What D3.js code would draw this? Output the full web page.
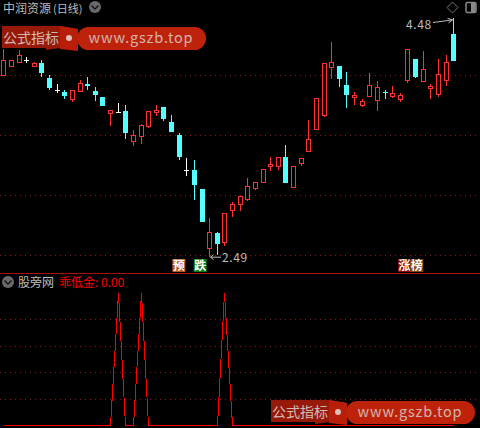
<!DOCTYPE html>
<html><head><meta charset="utf-8">
<script src="https://cdn.jsdelivr.net/npm/d3@7"></script>
<style>html,body{margin:0;padding:0;background:#000;overflow:hidden}svg{display:block}text{font-family:"Noto Sans CJK SC","Noto Sans",sans-serif}</style>
</head><body><div id="c"></div>
<script>
const opens=[4.005,4.076,4.114,4.130,4.076,4.101,3.980,3.876,3.864,3.801,3.868,3.931,3.872,3.822,3.685,3.697,3.706,3.458,3.500,3.581,3.697,3.736,3.614,3.506,3.214,3.214,3.056,2.559,2.690,2.609,2.876,2.931,2.971,3.059,3.109,3.245,3.250,3.320,3.070,3.275,3.367,3.558,3.667,4.074,4.080,3.922,3.820,3.758,3.833,3.800,3.865,3.833,3.806,3.966,4.139,3.950,3.897,3.850,3.966,4.347];
const highs=[4.222,4.126,4.214,4.158,4.114,4.130,4.005,3.931,3.881,3.876,3.964,3.989,3.906,3.822,3.710,3.772,3.756,3.548,3.597,3.703,3.756,3.736,3.672,3.520,3.314,3.298,3.056,2.815,2.698,2.854,2.948,2.998,3.148,3.112,3.220,3.320,3.320,3.423,3.245,3.312,3.631,3.811,4.103,4.278,4.080,4.030,3.861,3.803,4.020,3.955,3.881,3.911,3.856,4.219,4.139,4.205,3.931,4.136,4.172,4.480];
const lows=[4.005,4.068,4.114,4.105,4.076,3.985,3.881,3.856,3.806,3.776,3.868,3.881,3.789,3.743,3.581,3.689,3.475,3.414,3.431,3.564,3.664,3.622,3.531,3.298,3.159,2.965,2.776,2.490,2.507,2.576,2.817,2.873,2.951,3.050,3.109,3.206,3.215,3.100,3.059,3.250,3.367,3.558,3.656,3.972,3.906,3.731,3.756,3.739,3.822,3.706,3.806,3.814,3.781,3.939,3.980,3.950,3.806,3.822,3.914,4.122];
const closes=[4.130,4.126,4.172,4.130,4.101,4.018,3.893,3.876,3.831,3.876,3.935,3.914,3.839,3.743,3.710,3.697,3.520,3.506,3.589,3.703,3.710,3.639,3.531,3.317,3.214,3.084,2.776,2.696,2.598,2.854,2.931,2.998,3.081,3.112,3.220,3.262,3.320,3.100,3.245,3.312,3.470,3.811,4.103,4.111,3.975,3.841,3.836,3.786,3.920,3.903,3.864,3.853,3.836,4.219,3.989,4.053,3.914,4.011,4.111,4.122];
const indicator=opens.map(()=>0);
const peakIndexes=[15,18,29];
const priceGrid=[4,3.5,3,2.5];
const indicatorGrid=[20,40,60,80];
const title="中润资源";
const titlePeriod="(日线)";
const subTitle="股旁网";
const indicatorLabel="乖低金: 0.00";
const highLabel="4.48", lowLabel="2.49";
const signals=[{t:"预",i:22.6,c:"#b5561c"},{t:"跌",i:25.4,c:"#0b7a12"},{t:"涨",i:52.2,c:"#860505"},{t:"榜",i:53.8,c:"#84480e"}];
peakIndexes.forEach(i=>indicator[i]=100);

const W=480,H=428;
const svg=d3.select("#c").append("svg").attr("width",W).attr("height",H);
svg.append("rect").attr("width",W).attr("height",H).attr("fill","#000");
const x=i=>Math.floor(3.8+7.625*i)+0.5;
const y=d3.scaleLinear().domain([2.5,4]).range([255.5,75.5]);
const y2=d3.scaleLinear().domain([0,100]).range([425.5,293]);
const RED="#ff3232",CY="#54ffff",GRID="#8c1a1a";

svg.selectAll(".g1").data(priceGrid).join("line").attr("x1",0).attr("x2",W).attr("y1",d=>y(d)).attr("y2",d=>y(d)).attr("stroke",GRID).attr("stroke-dasharray","1 4");
svg.selectAll(".g2").data(indicatorGrid).join("line").attr("x1",0).attr("x2",W).attr("y1",d=>Math.floor(y2(d))+.5).attr("y2",d=>Math.floor(y2(d))+.5).attr("stroke",GRID).attr("stroke-dasharray","1 4");
svg.append("line").attr("x1",0).attr("x2",W).attr("y1",273.5).attr("y2",273.5).attr("stroke","#a81010");

const col=i=>closes[i]>opens[i]?RED:closes[i]<opens[i]?CY:"#fff";
const k=svg.append("g").attr("shape-rendering","crispEdges");
d3.range(opens.length).forEach(i=>{
  const c=col(i),cx=x(i),top=Math.round(y(Math.max(opens[i],closes[i]))),bot=Math.round(y(Math.min(opens[i],closes[i])));
  const yh=Math.round(y(highs[i])),yl=Math.round(y(lows[i]));
  k.append("rect").attr("x",cx-.5).attr("width",1).attr("y",yh).attr("height",Math.max(1,yl-yh)).attr("fill",c);
  if(c===RED){
    k.append("rect").attr("x",cx-2.5).attr("width",5).attr("y",top).attr("height",Math.max(2,bot-top+1)).attr("fill",c);
    if(bot-top>1)k.append("rect").attr("x",cx-1.5).attr("width",3).attr("y",top+1).attr("height",bot-top-1).attr("fill","#000");
  } else if(c===CY){
    k.append("rect").attr("x",cx-2.5).attr("width",5).attr("y",top).attr("height",Math.max(1,bot-top)).attr("fill",c);
  } else {
    k.append("rect").attr("x",cx-2.5).attr("width",5).attr("y",top).attr("height",1).attr("fill",c);
  }
});

svg.append("path").attr("d",d3.line().x((d,i)=>x(i)).y(d=>y2(d))(indicator)).attr("fill","none").attr("stroke","#ff0000").attr("stroke-width",1).attr("shape-rendering","crispEdges");

function tx(s,px,py,size,fill,anchor){return svg.append("text").attr("x",px).attr("y",py).attr("font-size",size).attr("fill",fill).attr("text-anchor",anchor||"start").text(s);}
tx(title,3,13,12,"#bdbdbd");
tx(titlePeriod,53,13,11,"#bdbdbd");
tx(subTitle,18,287,12,"#bdbdbd");
tx(indicatorLabel,59,287,12,"#ff0000");
function chev(cx,cy){svg.append("circle").attr("cx",cx).attr("cy",cy).attr("r",6).attr("fill","#6a6a6a");svg.append("path").attr("d",`M${cx-3.5} ${cy-1.5}L${cx} ${cy+2}L${cx+3.5} ${cy-1.5}`).attr("fill","none").attr("stroke","#111").attr("stroke-width",1.3);}
chev(95,7);chev(8,282);
svg.append("path").attr("d","M452.5 2L458 7.5L452.5 13L447 7.5Z").attr("fill","none").attr("stroke","#777");
svg.append("rect").attr("x",466).attr("y",2.5).attr("width",10).attr("height",10).attr("rx",1.5).attr("fill","none").attr("stroke","#888").attr("stroke-width",1.5);
svg.append("rect").attr("x",471).attr("y",3).attr("width",4.5).attr("height",9).attr("fill","#888");

tx(highLabel,406,29,12,"#bdbdbd").attr("letter-spacing",.6);
const hx=x(59),hy=y(4.48)+1;
svg.append("path").attr("d",`M433 22.5L${hx-1} ${hy+1}M${hx-6} ${hy-0.5}L${hx-1} ${hy+1}L${hx-5} ${hy+4}`).attr("fill","none").attr("stroke","#bdbdbd");
tx(lowLabel,222,262,12,"#bdbdbd").attr("letter-spacing",.6);
const lx=x(27),ly=y(2.49);
svg.append("path").attr("d",`M221 ${ly+.5}L${lx+1} ${ly+.5}M${lx+4} ${ly-2}L${lx+1} ${ly+.5}L${lx+4} ${ly+3}`).attr("fill","none").attr("stroke","#bdbdbd");

signals.forEach(s=>{const px=x(0)+s.i*7.625-3.5;svg.append("rect").attr("x",px).attr("y",259).attr("width",13).attr("height",13).attr("fill",s.c);
  tx(s.t,px+6.5,270,12,"#fff","middle").attr("font-weight",700);});

function mark(ox,oy){const g=svg.append("g").attr("transform",`translate(${ox},${oy})`).attr("opacity",.9);
  g.append("path").attr("d","M0 0H58L76 3V24L58 22L44 24V22H0Z").attr("fill","#a81c0a");
  g.append("path").attr("d","M58 0L76 3V25L58 23Z").attr("fill","#cc220c");
  g.append("rect").attr("x",75).attr("y",1).attr("width",129).attr("height",23).attr("rx",11.5).attr("fill","#d4260c");
  g.append("circle").attr("cx",67).attr("cy",12).attr("r",3).attr("fill","#f4d6d0");
  g.append("text").attr("x",1).attr("y",17).attr("font-size",14).attr("fill","#e8cfc8").text("公式指标");
  g.append("text").attr("x",139).attr("y",17).attr("text-anchor","middle").attr("font-family","Liberation Sans").attr("font-size",14.5).attr("letter-spacing",.8).attr("fill","#e8c8c0").text("www.gszb.top");
}
mark(2,26);mark(271,400);
</script></body></html>
